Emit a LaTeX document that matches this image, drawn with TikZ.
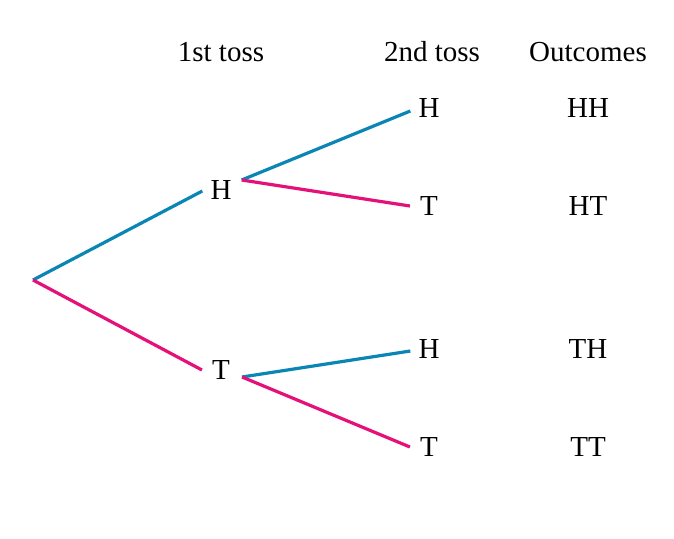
\documentclass[tikz,border=0pt]{standalone}
\usepackage{fontspec}
\setmainfont{Liberation Serif}
\definecolor{cblue}{RGB}{10,134,180}
\definecolor{cpink}{RGB}{228,18,120}
\begin{document}
\begin{tikzpicture}[x=1pt,y=-1pt,
  lbl/.style={font=\fontsize{29}{34}\selectfont, inner sep=0pt, anchor=center},
  bh/.style={draw=cblue, line width=3.2pt},
  bt/.style={draw=cpink, line width=3.2pt}]
\useasboundingbox (0,0) rectangle (674,538);
% headers
\node[lbl] (hd1) at (221,52) {1st toss};
\node[lbl] (hd2) at (432,52) {2nd toss};
\node[lbl] (hd3) at (588,52) {Outcomes};
% tree nodes
\coordinate (root) at (33,280);
\node[lbl] (h1) at (221,190) {H};
\node[lbl] (t1) at (221,370) {T};
\node[lbl] (hh) at (429,108) {H};
\node[lbl] (ht) at (429,206) {T};
\node[lbl] (th) at (429,349) {H};
\node[lbl] (tt) at (429,447) {T};
% outcomes
\node[lbl] (ohh) at (588,108) {HH};
\node[lbl] (oht) at (588,206) {HT};
\node[lbl] (oth) at (588,349) {TH};
\node[lbl] (ott) at (588,447) {TT};
% branches
\draw[bh] (root) -- ([xshift=-8pt,yshift=-1pt]h1.west);
\draw[bt] (root) -- ([xshift=-10pt]t1.west);
\draw[bh] ([xshift=10pt,yshift=10pt]h1.east) -- ([xshift=-8pt,yshift=-3pt]hh.west);
\draw[bt] ([xshift=10pt,yshift=10pt]h1.east) -- ([xshift=-10pt]ht.west);
\draw[bh] ([xshift=12pt,yshift=-7pt]t1.east) -- ([xshift=-8pt,yshift=-2pt]th.west);
\draw[bt] ([xshift=12pt,yshift=-7pt]t1.east) -- ([xshift=-10pt]tt.west);
\end{tikzpicture}
\end{document}
